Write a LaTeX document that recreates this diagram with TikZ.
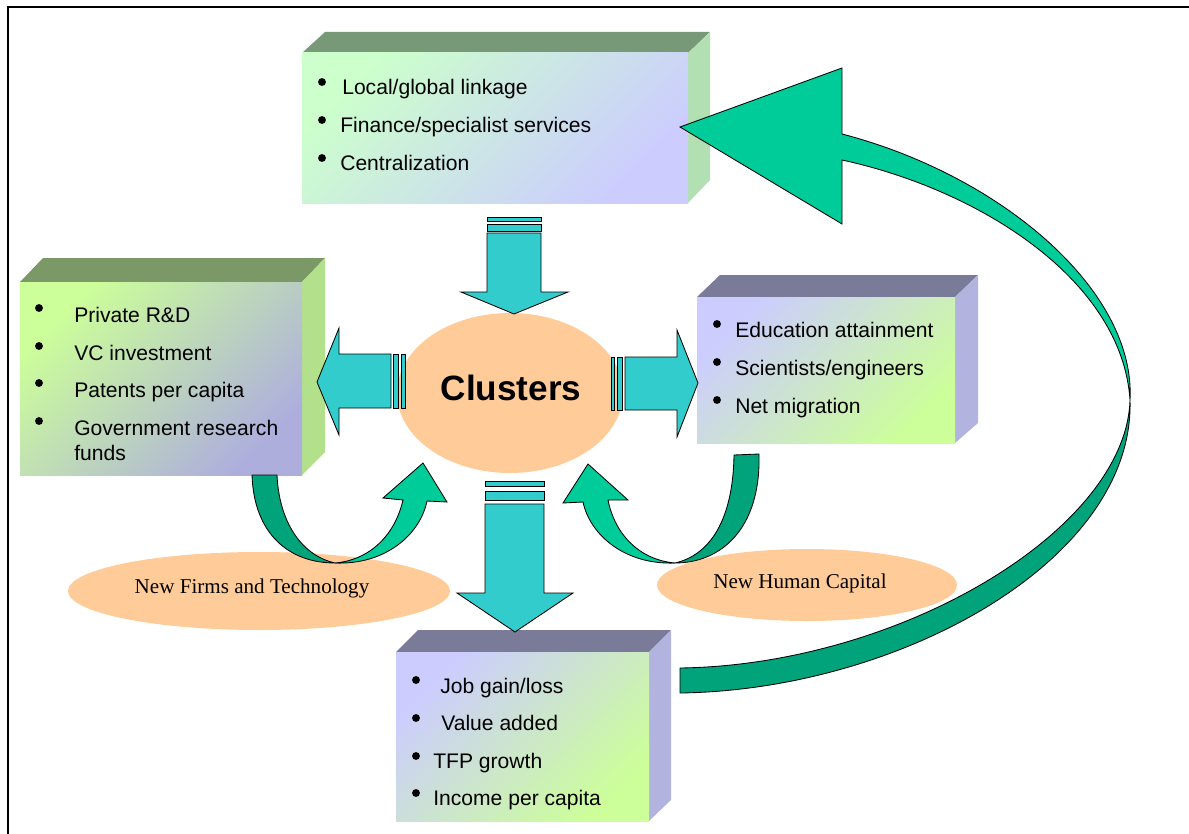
\documentclass[tikz,border=0pt]{standalone}
\usepackage{fontspec}
\setmainfont{Liberation Serif}
\setsansfont{Liberation Sans}
\usepackage{tikz}

\definecolor{peach}{HTML}{FFCC99}
\definecolor{blockteal}{HTML}{33CCCC}
\definecolor{ribbonlight}{HTML}{00CC99}
\definecolor{ribbondark}{HTML}{00A37A}
\definecolor{mint}{HTML}{CCFFCC}
\definecolor{lime}{HTML}{CCFF99}
\definecolor{lavender}{HTML}{CCCCFF}
\definecolor{greylav}{HTML}{AEAEDD}
\definecolor{mossTop}{HTML}{789978}
\definecolor{oliveTop}{HTML}{7A9966}
\definecolor{slateTop}{HTML}{7A7A99}
\definecolor{mossSide}{HTML}{B3E0B3}
\definecolor{limeSide}{HTML}{B3E08A}
\definecolor{slateSide}{HTML}{B3B3E0}

\tikzset{
  item/.style={anchor=base west, inner sep=0pt, font=\sffamily\fontsize{15}{18}\selectfont},
  oval/.style={anchor=base, inner sep=0pt, font=\fontsize{15}{18}\selectfont},
  hub/.style={anchor=base, inner sep=0pt, font=\sffamily\bfseries\fontsize{25}{30}\selectfont},
  block/.style={fill=blockteal, draw=black, line width=0.6pt},
  ribbon/.style={draw=black, line width=0.6pt},
}

\begin{document}
\begin{tikzpicture}[x=0.025cm, y=-0.025cm]

            \useasboundingbox (0,0) rectangle (1189,834);
            \draw[line width=1.5pt] (8,834) -- (8,7) -- (1189,7);

            % top box
            \fill[mossTop] (302,53) -- (325,32) -- (710,32) -- (688,53) -- cycle;
            \fill[mossSide] (688,53) -- (710,32) -- (710,180) -- (688,203) -- cycle;
            \shade[top color=mint, bottom color=lavender, shading angle=45] (302,53) rectangle (688,203);

            % left box
            \fill[oliveTop] (20,282) -- (43,258) -- (325,258) -- (302,282) -- cycle;
            \fill[limeSide] (302,282) -- (325,258) -- (325,452) -- (302,475) -- cycle;
            \shade[top color=lime, bottom color=greylav, shading angle=45] (20,282) rectangle (302,475);

            % right box
            \fill[slateTop] (697,297) -- (720,275) -- (978,275) -- (955,297) -- cycle;
            \fill[slateSide] (955,297) -- (978,275) -- (978,423) -- (955,443) -- cycle;
            \shade[top color=lavender, bottom color=lime, shading angle=45] (697,297) rectangle (955,443);

            % bottom box
            \fill[slateTop] (396,652) -- (418,630) -- (671,630) -- (649,652) -- cycle;
            \fill[slateSide] (649,652) -- (671,630) -- (671,800) -- (649,821) -- cycle;
            \shade[top color=lavender, bottom color=lime, shading angle=45] (396,652) rectangle (649,821);

            % ovals
            \fill[peach] (510,393) ellipse (113 and 80);
            \fill[peach] (259,591) ellipse (191 and 39);
            \fill[peach] (807,585) ellipse (150 and 36);

            % block arrows
            \draw[block] (487,217) rectangle (541,221);
            \draw[block] (487,224) rectangle (541,231);
            \draw[block] (487,233) -- (541,233) -- (541,292) -- (568,292) -- (514,314) -- (461,292) -- (487,292) -- cycle;

            \draw[block] (401,354) rectangle (405,408);
            \draw[block] (393,354) rectangle (398,408);
            \draw[block] (391,354) -- (339,354) -- (339,328) -- (317,382) -- (339,435) -- (339,408) -- (391,408) -- cycle;

            \draw[block] (611,357) rectangle (614,410);
            \draw[block] (617,357) rectangle (622,410);
            \draw[block] (625,357) -- (677,357) -- (677,330) -- (698,383) -- (677,437) -- (677,410) -- (625,410) -- cycle;

            \draw[block] (485,481) rectangle (544,486);
            \draw[block] (485,491) rectangle (544,500);
            \draw[block] (485,504) -- (544,504) -- (544,593) -- (573,593) -- (515,632) -- (457,593) -- (485,593) -- cycle;

            % curved arrows
            \draw[ribbon, fill=ribbondark] (252,475) -- (277,475) .. controls (279,520) and (300,555) .. (335,563)
                .. controls (290,563) and (254,535) .. (252,475) -- cycle;
            \draw[ribbon, fill=ribbonlight] (335,563) .. controls (385,565) and (420,535) .. (427,501)
                -- (447,502) -- (423,463) -- (383,498) -- (403,500)
                .. controls (395,535) and (370,560) .. (335,563) -- cycle;

            \draw[ribbon, fill=ribbondark] (734,455) -- (759,454) .. controls (761,530) and (720,563) .. (675,563)
                .. controls (710,555) and (733,520) .. (734,455) -- cycle;
            \draw[ribbon, fill=ribbonlight] (675,563) .. controls (625,565) and (590,535) .. (583,502)
                -- (563,503) -- (588,464) -- (628,500) -- (608,500)
                .. controls (615,535) and (640,560) .. (675,563) -- cycle;

            \draw[ribbon, fill=ribbondark] (680,668) -- (680,693) .. controls (900,690) and (1135,560) .. (1130,400)
                .. controls (1126,530) and (900,665) .. (680,668) -- cycle;
            \draw[ribbon, fill=ribbonlight] (1130,400) .. controls (1136,290) and (1000,175) .. (842,134)
                -- (842,68) -- (680,127) -- (842,224) -- (842,160)
                .. controls (980,190) and (1122,280) .. (1130,400) -- cycle;

            % texts
            \node[hub] (clusters) at (511,400) {Clusters};
            \node[oval] (firms) at (252,593) {New Firms and Technology};
            \node[oval] (human) at (800,588) {New Human Capital};

            \node[item] (top1) at (342,95) {Local/global linkage};
            \node[item] (top2) at (340,133) {Finance/specialist services};
            \node[item] (top3) at (340,171) {Centralization};
            \fill (322,82) circle (2.8pt);
            \fill (322,120) circle (2.8pt);
            \fill (322,158) circle (2.8pt);

            \node[item] (left1) at (74,322) {Private R\&D};
            \node[item] (left2) at (74,360) {VC investment};
            \node[item] (left3) at (74,397) {Patents per capita};
            \node[item] (left4) at (74,435) {Government research};
            \node[item] (left5) at (74,460) {funds};
            \fill (39,308) circle (2.8pt);
            \fill (39,346) circle (2.8pt);
            \fill (39,383) circle (2.8pt);
            \fill (39,421) circle (2.8pt);

            \node[item] (right1) at (735,337) {Education attainment};
            \node[item] (right2) at (735,375) {Scientists/engineers};
            \node[item] (right3) at (735,413) {Net migration};
            \fill (717,324) circle (2.8pt);
            \fill (717,362) circle (2.8pt);
            \fill (717,400) circle (2.8pt);

            \node[item] (bot1) at (440,693) {Job gain/loss};
            \node[item] (bot2) at (441,730) {Value added};
            \node[item] (bot3) at (433,768) {TFP growth};
            \node[item] (bot4) at (433,805) {Income per capita};
            \fill (416,680) circle (2.8pt);
            \fill (416,718) circle (2.8pt);
            \fill (416,756) circle (2.8pt);
            \fill (416,793) circle (2.8pt);

\end{tikzpicture}
\end{document}
